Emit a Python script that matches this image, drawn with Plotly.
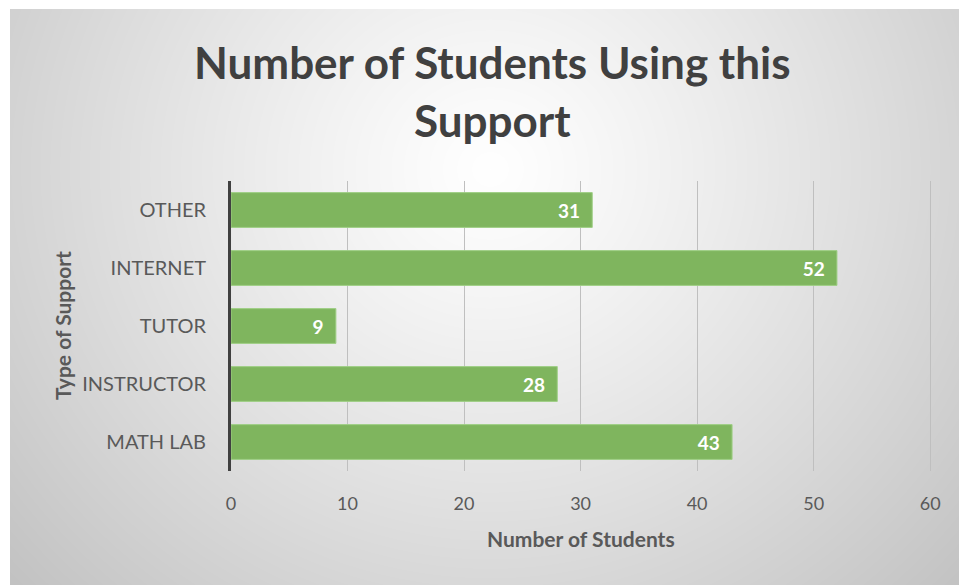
import base64, struct, zlib
import numpy as np
import plotly.graph_objects as go

categories = ["MATH LAB", "INSTRUCTOR", "TUTOR", "INTERNET", "OTHER"]
students = [43, 28, 9, 52, 31]
x_ticks = [0, 10, 20, 30, 40, 50, 60]

W, H = 967, 585
OFF = 8  # page body margin
XMAX = 60.5
L, T = 231 - OFF, 181 - OFF
PW = round(699 * XMAX / 60)
R = W - L - PW
B = H - (471 - OFF)
PH = H - T - B

def px_to_paper(sx, sy):
    px, py = sx - OFF, sy - OFF
    return (px - L) / PW, 1 - (py - T) / PH

# radial gradient background image
gw, gh = 965, 584
yy, xx = np.mgrid[0:gh, 0:gw]
cx, cy = 480, 160
d = np.sqrt(((xx - cx) / 1.0) ** 2 + ((yy - cy) / 0.95) ** 2) / 640.0
v = np.clip(255 - 60 * d ** 1.15, 0, 255).astype(np.uint8)
raw = b"".join(b"\x00" + bytes(np.repeat(row, 3)) for row in v)
def chunk(tag, data):
    c = struct.pack(">I", len(data)) + tag + data
    return c + struct.pack(">I", zlib.crc32(tag + data) & 0xFFFFFFFF)
png = (b"\x89PNG\r\n\x1a\n" + chunk(b"IHDR", struct.pack(">IIBBBBB", gw, gh, 8, 2, 0, 0, 0))
       + chunk(b"IDAT", zlib.compress(raw, 9)) + chunk(b"IEND", b""))
src = "data:image/png;base64," + base64.b64encode(png).decode()

x0p, y0p = px_to_paper(10, 9)
x1p, y1p = px_to_paper(975, 593)

FONT = "Lato, 'Open Sans', sans-serif"
TXT = "#595959"

fig = go.Figure(go.Bar(
    y=categories, x=students, orientation="h",
    marker=dict(color="#7fb55e", line=dict(color="#9fcf86", width=1)),
    width=0.6,
    text=[f"{s}\u00a0\u00a0" for s in students], textposition="inside", insidetextanchor="end",
    textfont=dict(family=FONT, size=19, color="white", weight="bold"),
    cliponaxis=False,
))

fig.add_layout_image(dict(source=src, xref="paper", yref="paper", x=x0p, y=y0p,
                          sizex=x1p - x0p, sizey=y0p - y1p, sizing="stretch",
                          layer="below", xanchor="left", yanchor="top"))

t1x, t1y = px_to_paper(492, 62)
t2x, t2y = px_to_paper(492, 120)
for txt, ty in (("Number of Students Using this", t1y), ("Support", t2y)):
    fig.add_annotation(text=txt, x=t1x, y=ty, xref="paper", yref="paper",
                       showarrow=False, font=dict(family=FONT, size=44, color="#404040", weight="bold"),
                       xanchor="center", yanchor="middle")

axx, axy = px_to_paper(581, 538)
fig.add_annotation(text="Number of Students", x=axx, y=axy, xref="paper", yref="paper",
                   showarrow=False, font=dict(family=FONT, size=21, color=TXT, weight="bold"),
                   xanchor="center", yanchor="middle")
ayx, ayy = px_to_paper(62, 326)
fig.add_annotation(text="Type of Support", x=ayx, y=ayy, xref="paper", yref="paper", textangle=-90,
                   showarrow=False, font=dict(family=FONT, size=21, color=TXT, weight="bold"),
                   xanchor="center", yanchor="middle")

fig.update_layout(
    width=W, height=H,
    margin=dict(l=L, r=R, t=T, b=B),
    paper_bgcolor="white", plot_bgcolor="rgba(0,0,0,0)",
    showlegend=False, bargap=0.4,
    font=dict(family=FONT, color=TXT),
    xaxis=dict(range=[0, XMAX], tickvals=x_ticks, showgrid=True, gridcolor="#bfbfbf", gridwidth=1,
               zeroline=False, showline=False, ticks="", ticklen=0, ticklabelstandoff=20,
               tickfont=dict(size=18, color=TXT)),
    yaxis=dict(showline=True, linecolor="#404040", linewidth=3, ticks="", showgrid=False,
               ticklabelstandoff=18, tickfont=dict(size=20, color=TXT)),
)

fig.write_html("out.html")
